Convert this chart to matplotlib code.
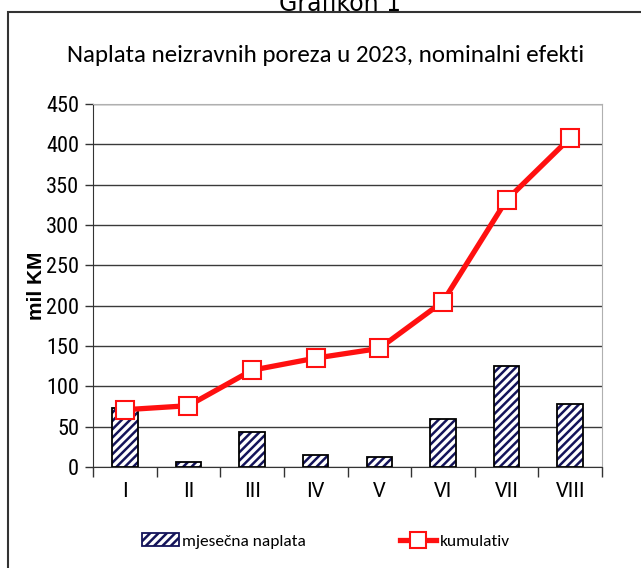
import numpy as np
import matplotlib
matplotlib.use('Agg')
import matplotlib.pyplot as plt
from matplotlib.patches import Rectangle
from matplotlib.lines import Line2D

# ── data ──────────────────────────────────────────────────────────────────
MONTHS     = ['I', 'II', 'III', 'IV', 'V', 'VI', 'VII', 'VIII']
MONTHLY    = [73, 6, 43, 15, 12, 59, 125, 78]          # mjesečna naplata
CUMULATIVE = [71, 76, 120, 135, 147, 205, 331, 408]    # kumulativ
YTICKS     = [0, 50, 100, 150, 200, 250, 300, 350, 400, 450]

CAL = ['Carlito', 'DejaVu Sans']
NARROW = ['Roboto Condensed', 'Archivo Narrow', 'DejaVu Sans']
plt.rcParams['font.family'] = CAL
plt.rcParams['hatch.linewidth'] = 1.8

NAVY = '#14145a'
RED = '#ff1010'

fig = plt.figure(figsize=(6.41, 5.68), dpi=100)
ax = fig.add_axes([93/641, 1 - 467/568, (602 - 93)/641, (467 - 104)/568])

x = np.arange(len(MONTHS))

# hatched bars + black outline
ax.bar(x, MONTHLY, width=0.4, color='white', edgecolor=NAVY, hatch='////',
       linewidth=0, zorder=3)
ax.bar(x, MONTHLY, width=0.4, fill=False, edgecolor='black', linewidth=1.3,
       zorder=4)

ax.plot(x, CUMULATIVE, color=RED, lw=3.8, marker='s', ms=13, mfc='white',
        mec=RED, mew=1.5, zorder=5)

# axes styling
ax.set_xlim(-0.5, len(MONTHS) - 0.5)
ax.set_ylim(0, 450)
ax.set_yticks(YTICKS)
ax.set_yticklabels([str(v) for v in YTICKS], fontsize=16, family=NARROW)
ax.set_xticks(np.arange(-0.5, len(MONTHS), 1.0))
ax.set_xticklabels([])
ax.set_xticks(x, minor=True)
ax.set_xticklabels(MONTHS, minor=True, fontsize=16)
ax.tick_params(axis='x', which='major', length=7, width=1, color='#333333')
ax.tick_params(axis='x', which='minor', length=0, pad=10)
ax.tick_params(axis='y', length=6, width=1, color='#333333', pad=4)

ax.grid(axis='y', color='#3a3a3a', lw=1.0, zorder=0)
ax.set_axisbelow(True)
for side in ('top', 'right'):
    ax.spines[side].set_color('#b0b0b0')
for side in ('left', 'bottom'):
    ax.spines[side].set_color('#333333')

ax.set_ylabel('mil KM', fontsize=15, fontweight='bold',
              family=['Liberation Sans', 'DejaVu Sans'], labelpad=0)

# title
fig.text(326/641, 1 - 55/568, 'Naplata neizravnih poreza u 2023, nominalni efekti',
         ha='center', va='center', fontsize=18)

# caption cut off at top
fig.text(340/641, 1 - 4/568, 'Grafikon 1', ha='center', va='center',
         fontsize=17, family=['DejaVu Sans'])

# outer frame
fig.add_artist(Rectangle((8/641, -0.02), 1.0, 1 - 12/568 + 0.02,
                         transform=fig.transFigure, fill=False,
                         edgecolor='#333333', lw=1.5))

# legend
h_bar = Rectangle((0, 0), 1, 1, facecolor='white', edgecolor=NAVY,
                  hatch='////', lw=1.3)
h_line = Line2D([], [], color=RED, lw=3.8, marker='s', ms=12, mfc='white',
                mec=RED, mew=1.5)
fig.legend([h_bar, h_line], ['mjesečna naplata', 'kumulativ'],
           loc='center', bbox_to_anchor=(326/641, 1 - 541/568), ncol=2,
           frameon=False, fontsize=12.5, handlelength=2.1, handleheight=0.7,
           handletextpad=0.2, columnspacing=5.4)

fig.savefig('out.png', dpi=100)
